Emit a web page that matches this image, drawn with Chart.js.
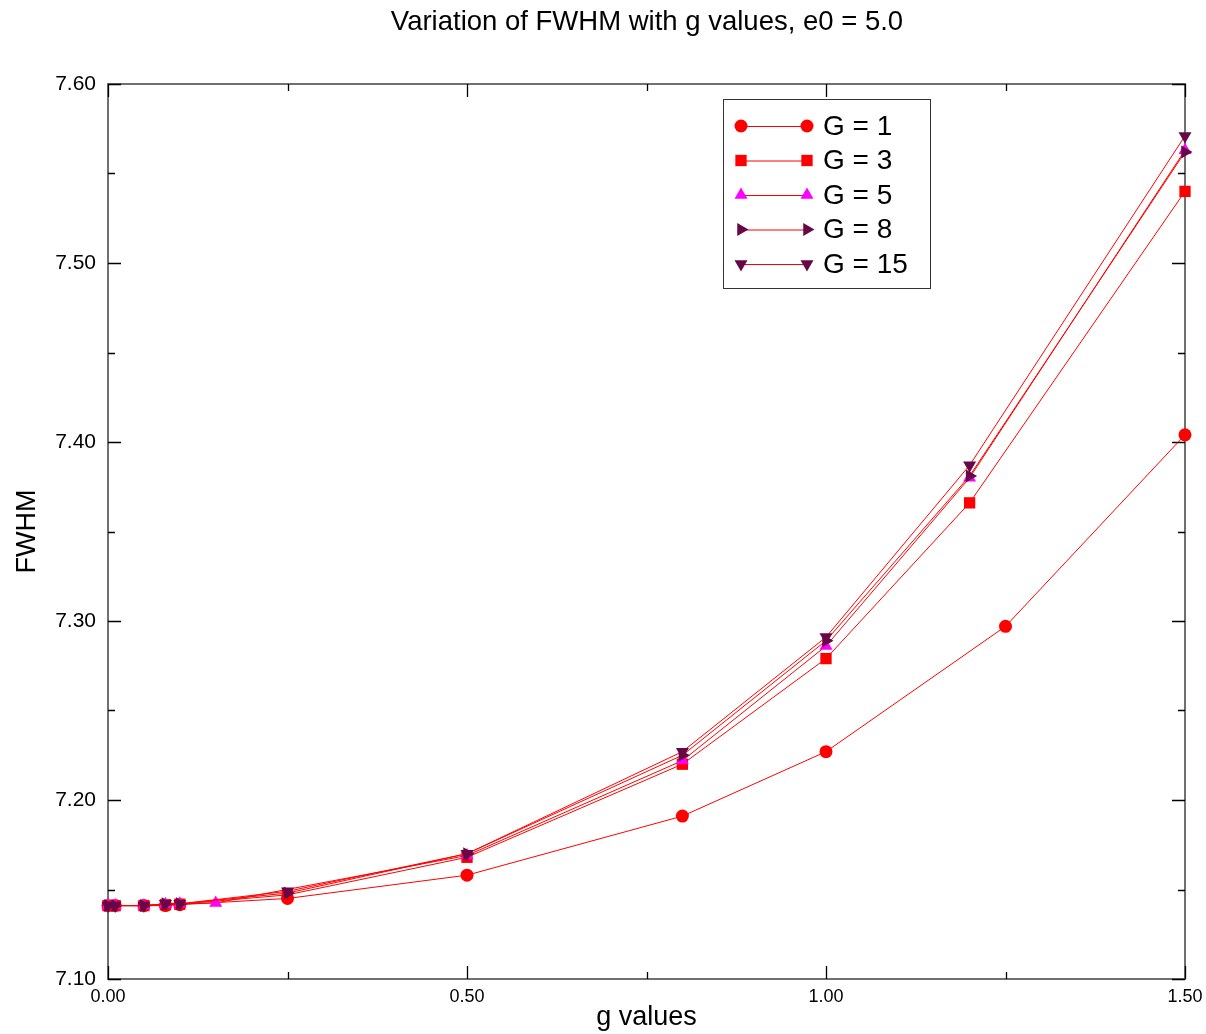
<!DOCTYPE html>
<html>
<head>
<meta charset="utf-8">
<script src="https://cdn.jsdelivr.net/npm/chart.js@4.4.1/dist/chart.umd.min.js"></script>
<style>
  html, body { margin: 0; padding: 0; background: #fff; }
  #wrap { width: 1206px; height: 1034px; }
</style>
</head>
<body>
<div id="wrap"><canvas id="chart" width="1206" height="1034"></canvas></div>
<script>
// Data
const gG1 = [0, 0.01, 0.05, 0.08, 0.1, 0.25, 0.5, 0.8, 1.0, 1.25, 1.5];
const fwhmG1 = [7.141, 7.141, 7.141, 7.141, 7.1415, 7.145, 7.158, 7.191, 7.227, 7.297, 7.404];

const gG3 = [0, 0.01, 0.05, 0.08, 0.1, 0.25, 0.5, 0.8, 1.0, 1.2, 1.5];
const fwhmG3 = [7.141, 7.141, 7.141, 7.1415, 7.1418, 7.147, 7.168, 7.220, 7.279, 7.366, 7.540];

const gG5 = [0, 0.01, 0.05, 0.08, 0.1, 0.15, 0.5, 0.8, 1.0, 1.2, 1.5];
const fwhmG5 = [7.141, 7.141, 7.141, 7.1418, 7.142, 7.1425, 7.169, 7.222, 7.286, 7.380, 7.563];

const gG8 = [0, 0.01, 0.05, 0.08, 0.1, 0.25, 0.5, 0.8, 1.0, 1.2, 1.5];
const fwhmG8 = [7.141, 7.141, 7.141, 7.142, 7.142, 7.148, 7.170, 7.225, 7.289, 7.381, 7.562];

const gG15 = [0, 0.01, 0.05, 0.08, 0.1, 0.25, 0.5, 0.8, 1.0, 1.2, 1.5];
const fwhmG15 = [7.141, 7.141, 7.141, 7.142, 7.142, 7.149, 7.170, 7.227, 7.291, 7.387, 7.571];

const seriesLabels = ['G = 1', 'G = 3', 'G = 5', 'G = 8', 'G = 15'];
const xTickValues = [0, 0.5, 1.0, 1.5];
const yTickValues = [7.1, 7.2, 7.3, 7.4, 7.5, 7.6];

const FONT = '"Liberation Sans", Arial, sans-serif';
const RED = '#ff0000';
const MAGENTA = '#ff00ff';
const MAROON = '#670748';

function toPoints(xs, ys) {
  return xs.map((x, i) => ({ x: x, y: ys[i] }));
}

function makeSet(label, xs, ys, style, color, radius, rotation, order) {
  return {
    label: label,
    data: toPoints(xs, ys),
    borderColor: RED,
    borderWidth: 1,
    backgroundColor: color,
    pointStyle: style,
    pointRadius: radius,
    pointRotation: rotation,
    pointBackgroundColor: color,
    pointBorderColor: color,
    pointBorderWidth: 0,
    pointHoverRadius: radius,
    tension: 0,
    fill: false,
    clip: false,
    order: order
  };
}

const datasets = [
  makeSet(seriesLabels[0], gG1, fwhmG1, 'circle', RED, 6.5, 0, 5),
  makeSet(seriesLabels[1], gG3, fwhmG3, 'rect', RED, 8, 0, 4),
  makeSet(seriesLabels[2], gG5, fwhmG5, 'triangle', MAGENTA, 7.5, 0, 3),
  makeSet(seriesLabels[3], gG8, fwhmG8, 'triangle', MAROON, 7.5, 90, 2),
  makeSet(seriesLabels[4], gG15, fwhmG15, 'triangle', MAROON, 7.5, 180, 1)
];

// Frame, inward ticks, title and legend box
const framePlugin = {
  id: 'frame',
  beforeDatasetsDraw(chart) {
    const ctx = chart.ctx;
    const a = chart.chartArea;
    const xs = chart.scales.x, ys = chart.scales.y;
    ctx.save();
    ctx.strokeStyle = '#707070';
    ctx.lineWidth = 2;
    ctx.strokeRect(a.left, a.top, a.right - a.left, a.bottom - a.top);
    ctx.strokeStyle = '#000';
    ctx.lineWidth = 1.3;
    ctx.beginPath();
    for (let v = 0; v <= 1.5001; v += 0.25) {
      const px = Math.round(xs.getPixelForValue(v)) + 0.5;
      const len = Math.abs(v * 2 - Math.round(v * 2)) < 1e-6 ? 13 : 7;
      ctx.moveTo(px, a.bottom); ctx.lineTo(px, a.bottom - len);
      ctx.moveTo(px, a.top); ctx.lineTo(px, a.top + len);
    }
    for (let i = 0; i <= 10; i++) {
      const v = 7.1 + i * 0.05;
      const py = Math.round(ys.getPixelForValue(v)) + 0.5;
      const len = i % 2 === 0 ? 13 : 7;
      ctx.moveTo(a.left, py); ctx.lineTo(a.left + len, py);
      ctx.moveTo(a.right, py); ctx.lineTo(a.right - len, py);
    }
    ctx.stroke();
    ctx.restore();
  },
  afterDatasetsDraw(chart) {
    const ctx = chart.ctx;
    ctx.save();
    const bx = 723.5, by = 99.5, bw = 207, bh = 189;
    ctx.fillStyle = '#fff';
    ctx.fillRect(bx, by, bw, bh);
    ctx.strokeStyle = '#333';
    ctx.lineWidth = 1;
    ctx.strokeRect(bx, by, bw, bh);
    ctx.font = '28px ' + FONT;
    ctx.textBaseline = 'middle';
    ctx.textAlign = 'left';
    seriesLabels.forEach((lab, i) => {
      const ds = chart.data.datasets[i];
      const y = 126 + i * 34.5;
      ctx.strokeStyle = RED;
      ctx.lineWidth = 1;
      ctx.beginPath();
      ctx.moveTo(741, y + 0.5); ctx.lineTo(807, y + 0.5);
      ctx.stroke();
      const opts = {
        pointStyle: ds.pointStyle, radius: ds.pointRadius,
        rotation: ds.pointRotation, borderWidth: 0
      };
      ctx.fillStyle = ds.pointBackgroundColor;
      ctx.strokeStyle = ds.pointBorderColor;
      [741, 807].forEach(px => Chart.helpers.drawPoint(ctx, opts, px, y));
      ctx.fillStyle = '#000';
      ctx.fillText(lab, 823, y + 1);
    });
    ctx.restore();
  },
  afterDraw(chart) {
    const ctx = chart.ctx;
    ctx.save();
    ctx.fillStyle = '#000';
    ctx.font = '27.5px ' + FONT;
    ctx.textAlign = 'center';
    ctx.textBaseline = 'middle';
    ctx.fillText('Variation of FWHM with g values, e0 = 5.0', 647, 22);
    ctx.restore();
  }
};

new Chart(document.getElementById('chart'), {
  type: 'line',
  data: { datasets: datasets },
  options: {
    responsive: false,
    animation: false,
    events: [],
    layout: { padding: { top: 84, right: 21, left: 0, bottom: 0 } },
    plugins: {
      legend: { display: false },
      title: { display: false },
      tooltip: { enabled: false }
    },
    scales: {
      x: {
        type: 'linear',
        min: 0,
        max: 1.5,
        afterBuildTicks(scale) {
          scale.ticks = xTickValues.map(v => ({ value: v }));
        },
        afterFit(scale) {
          scale.height = 55;
          scale.paddingLeft = 0;
          scale.paddingRight = 0;
        },
        grid: { display: false, drawTicks: false },
        border: { display: false },
        ticks: {
          padding: 7,
          color: '#000',
          font: { family: FONT, size: 18 },
          maxRotation: 0,
          callback: v => Number(v).toFixed(2)
        },
        title: {
          display: true,
          text: 'g values',
          color: '#000',
          font: { family: FONT, size: 27 },
          padding: { top: 0, bottom: 0 }
        }
      },
      y: {
        type: 'linear',
        min: 7.1,
        max: 7.6,
        afterBuildTicks(scale) {
          scale.ticks = yTickValues.map(v => ({ value: v }));
        },
        afterFit(scale) {
          scale.width = 108;
          scale.paddingTop = 0;
          scale.paddingBottom = 0;
        },
        grid: { display: false, drawTicks: false },
        border: { display: false },
        ticks: {
          padding: 12,
          color: '#000',
          font: { family: FONT, size: 21 },
          callback: v => Number(v).toFixed(2)
        },
        title: {
          display: true,
          text: 'FWHM',
          color: '#000',
          font: { family: FONT, size: 27 },
          padding: { top: 11, bottom: 0 }
        }
      }
    }
  },
  plugins: [framePlugin]
});
</script>
</body>
</html>
